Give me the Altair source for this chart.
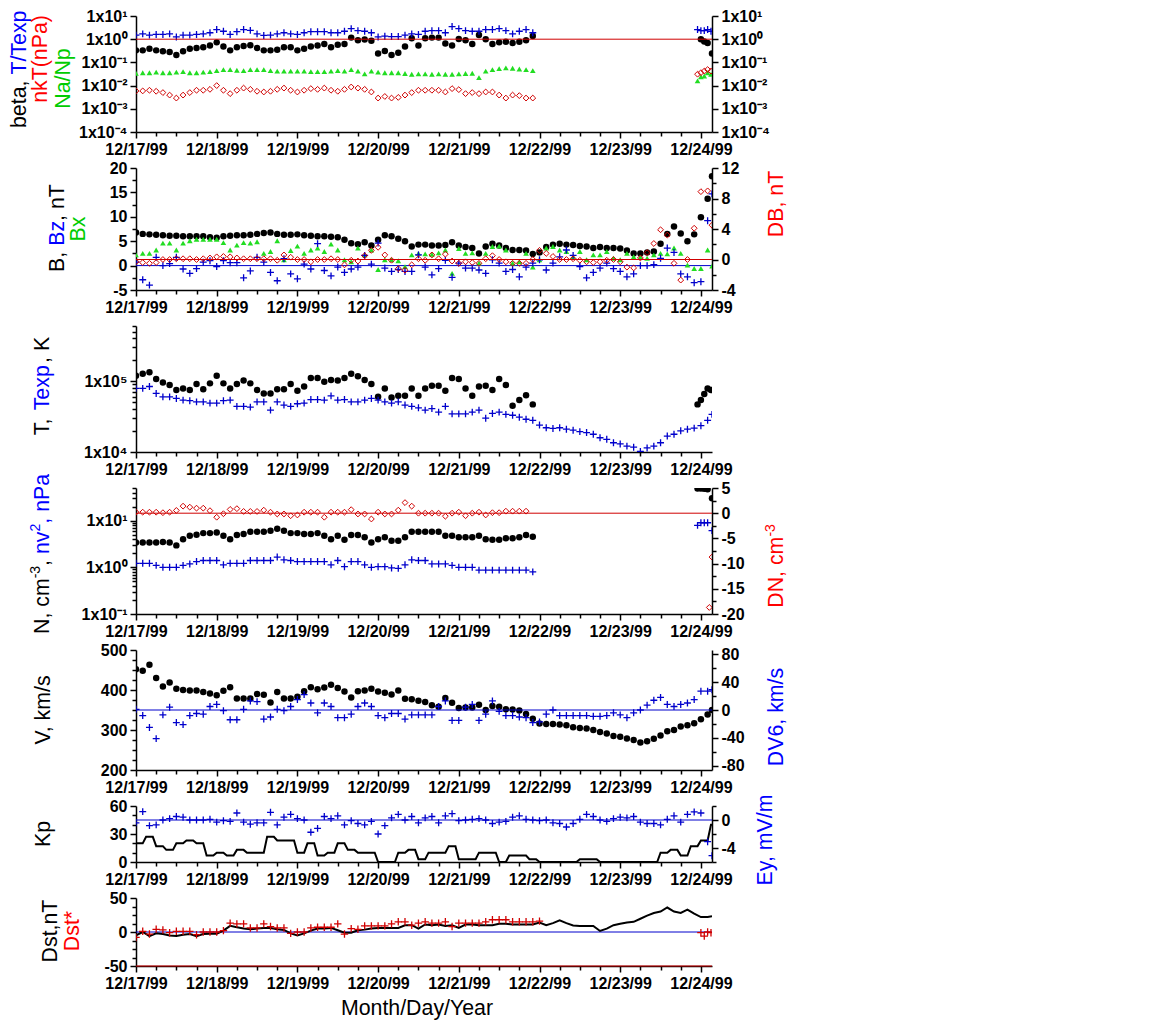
import altair as alt
import pandas as pd

FONT = "Liberation Sans"
TITLE_SIZE = 21.33
LABEL_SIZE = 16
BLACK = "#000000"
BLUE = "#0000CC"
RED = "#D00000"
GREEN = "#22DD22"
TXT_BLUE = "#0000FF"
TXT_RED = "#FF0000"
TXT_GREEN = "#00CC00"

X_END = 171.3          # hours after 12/17/99 00:00 at right end of axis
PLOT_W = 576
PANEL_H = [116, 122, 126, 126, 120, 56, 68]
SPACING = 36

# ---------------- data (2-hour samples from 12/17/99 00:00) ----------------
# Panel 1
BETA = [0.33, 0.33, 0.39, 0.33, 0.30, 0.28, 0.21, 0.30, 0.39, 0.42,
        0.45, 0.53, 0.73, 0.48, 0.33, 0.45, 0.51, 0.55, 0.42, 0.33,
        0.33, 0.35, 0.45, 0.45, 0.33, 0.39, 0.48, 0.53, 0.62, 0.45,
        0.58, 0.62, 1.17, 0.91, 0.97, 0.85, 0.24, 0.31, 0.21, 0.26,
        0.48, 1.10, 0.53, 1.10, 1.17, 1.17, 0.66, 0.53, 1.03, 0.91,
        0.62, 1.51, 1.0, 0.62, 0.73, 0.78, 0.68, 0.78, 0.91, 1.37]
BETA_TAIL_H = [168, 169, 170, 171.3]
BETA_TAIL = [1.0, 0.8, 0.68, 0.24]

TTEXP = [1.5, 1.7, 1.5, 1.6, 1.6, 1.7, 1.25, 1.5, 1.5, 1.6,
         1.7, 1.9, 2.6, 2.2, 1.6, 2.1, 2.6, 2.4, 1.7, 1.45,
         1.5, 1.7, 1.9, 1.7, 1.6, 1.9, 2.1, 2.1, 2.1, 1.9,
         1.9, 2.2, 2.85, 2.35, 2.2, 1.9, 1.25, 1.35, 1.3, 1.3,
         1.5, 1.7, 1.6, 2.2, 2.35, 2.35, 1.9, 3.5, 2.85, 2.35,
         2.2, 2.2, 2.6, 2.6, 2.85, 2.35, 1.7, 2.2, 2.6, 1.9]
TTEXP_TAIL_H = [167, 168, 169, 170, 171]
TTEXP_TAIL = [2.6, 2.35, 2.35, 2.6, 2.2]

NANP = [.034, .036, .036, .038, .036, .036, .038, .040, .036, .036,
        .038, .040, .044, .049, .049, .046, .044, .049, .049, .049,
        .044, .042, .042, .042, .042, .042, .040, .040, .040, .042,
        .044, .042, .049, .042, .032, .042, .038, .036, .036, .036,
        .033, .031, .032, .032, .031, .032, .031, .031, .032, .033,
        .034, .022, .042, .049, .054, .058, .056, .052, .049, .044]
NANP_TAIL_H = [167, 168, 169, 170, 171]
NANP_TAIL = [.016, .024, .026, .036, .031]

NKT = [.0059, .0059, .0063, .0057, .0050, .0039, .0029, .0039, .0050, .0063,
       .0063, .0069, .0100, .0063, .0045, .0063, .0078, .0069, .0057, .0053,
       .0057, .0069, .0078, .0063, .0053, .0063, .0074, .0069, .0078, .0063,
       .0057, .0069, .0087, .0078, .0069, .0053, .0029, .0034, .0029, .0031,
       .0039, .0050, .0063, .0063, .0063, .0063, .0053, .0074, .0067, .0045,
       .0050, .0045, .0053, .0053, .0039, .0029, .0039, .0037, .0029, .0029]
NKT_TAIL_H = [167, 168, 169, 170, 171]
NKT_TAIL = [.031, .036, .042, .049, .042]

# Panel 2 (last value of each list is at X_END)
B_MAG = [6.8, 6.5, 6.4, 6.3, 6.2, 6.1, 6.1, 6.0, 6.0, 6.0,
         6.0, 5.8, 5.7, 6.0, 6.1, 6.2, 6.2, 6.3, 6.5, 6.7,
         6.8, 6.5, 6.3, 6.3, 6.4, 6.2, 6.1, 6.0, 6.0, 5.9,
         5.8, 5.3, 4.6, 4.4, 4.8, 4.1, 5.3, 6.2, 6.0, 5.5,
         5.0, 3.9, 4.3, 4.3, 4.1, 4.1, 4.2, 4.8, 4.1, 3.8,
         3.6, 2.5, 3.9, 4.5, 4.1, 3.6, 3.2, 3.2, 3.1, 2.4,
         2.7, 3.8, 4.3, 4.5, 4.3, 4.2, 4.0, 3.9, 3.6, 3.8,
         3.6, 3.6, 3.5, 3.1, 2.5, 2.5, 2.7, 2.9, 4.5, 6.5,
         8.0, 6.6, 5.0, 6.4, 9.9, 13.7, 18.3]
BZ = [0.7, -2.9, -4.0, 1.7, 0.0, 0.4, 1.7, -0.7, -1.6, -0.6,
      0.7, 1.0, -0.2, 1.0, 0.6, 0.6, -2.5, -1.1, 1.7, 0.7,
      -1.4, -3.1, 1.4, -1.7, -2.7, 0.3, -0.7, 4.5, -1.0, -2.1,
      -0.3, -1.4, -0.7, -0.3, 2.1, 0.3, 4.6, -0.5, -1.2, -0.8,
      -1.2, -1.2, 2.2, -0.3, -1.9, -0.6, 1.1, -2.4, 0.5, -0.5,
      -0.5, -0.9, -1.6, 1.2, 0.5, -1.2, -0.8, -2.3, -0.3, 0.5,
      1.2, -0.9, 0.5, 1.8, 3.2, 2.1, -0.2, -2.5, -1.4, -0.5,
      0.5, -0.6, -1.2, -2.3, -1.7, 0.0, 0.0, 0.2, 1.5, 3.6,
      2.7, -1.7, -2.3, -3.5, -3.3, 9.2, 14.7]
BX = [2.2, 2.5, 2.5, 3.2, 4.6, 4.6, 3.2, 4.6, 5.1, 5.4,
      5.4, 5.4, 5.4, 4.7, 3.2, 4.2, 4.7, 4.6, 4.9, 2.5,
      2.9, 5.1, 1.2, 3.1, 4.0, 2.5, 3.2, 3.6, 2.9, 4.4,
      3.2, 1.2, 0.8, 3.6, 2.2, 3.2, -0.8, 1.2, 1.2, 1.0,
      -0.2, 2.2, 2.5, 2.4, 2.3, 2.6, 3.2, -1.6, 3.5, 2.5,
      2.6, 0.5, 2.5, 3.9, 4.0, 3.2, 0.5, 0.8, 2.5, -0.3,
      1.2, 3.6, 3.9, 3.2, 2.9, 1.8, 2.9, 1.2, 2.2, 2.2,
      2.9, 1.5, 1.2, 2.5, 1.8, 1.7, 1.5, 2.2, 2.5, 2.4,
      3.6, 2.5, 0.1, -0.6, -0.6, 3.2, -0.1]
DB = [-0.3, -0.4, -0.5, -0.4, 0.0, 0.0, 0.1, 0.1, 0.1, 0.0,
      0.1, 0.2, 0.35, 0.4, 0.35, 0.2, 0.1, 0.1, 0.1, 0.1,
      0.1, -0.1, 0.6, 0.3, 0.0, 0.0, -0.3, 0.0, 0.0, 0.1,
      0.0, -0.7, -0.1, -0.2, 0.5, 1.2, 1.6, 0.6, -0.1, -1.2,
      -1.4, -0.7, 0.1, -0.1, 0.6, 0.1, 0.7, -0.2, -0.5, -0.3,
      -0.4, -0.5, 0.1, 0.5, 0.0, -0.3, -0.5, -0.5, -0.5, 0.0,
      1.2, 0.8, 0.4, 0.0, 0.0, 0.1, -0.1, -0.3, -0.4, -0.3,
      -0.1, 0.0, -0.3, -1.0, -1.1, 0.2, 0.9, 2.1, 3.9, 3.2,
      -0.5, -2.7, 0.0, 4.1, 8.9, 9.0, 4.5]

# Panel 3
T_P = [1.19e5, 1.27e5, 1.33e5, 1.07e5, 9.6e4, 8.8e4, 7.5e4, 7.9e4, 7.5e4, 9.1e4,
       7.7e4, 9.3e4, 1.19e5, 9.3e4, 7.9e4, 9.1e4, 1.02e5, 9.3e4, 7.5e4, 6.7e4,
       6.7e4, 7.7e4, 7.7e4, 9.1e4, 7.3e4, 8.4e4, 1.11e5, 1.11e5, 9.8e4, 1.04e5,
       1.02e5, 1.11e5, 1.27e5, 1.17e5, 1.04e5, 9.1e4, 6.0e4, 7.9e4, 5.9e4, 6.2e4,
       6.2e4, 7.9e4, 6.2e4, 7.9e4, 8.6e4, 8.6e4, 7.3e4, 1.11e5, 1.07e5, 7.9e4,
       6.2e4, 8.4e4, 8.6e4, 7.5e4, 1.07e5, 8.8e4, 4.5e4, 5.4e4, 6.3e4, 4.7e4]
T_TAIL_H = [167, 168, 169, 170, 171]
T_TAIL = [4.7e4, 5.4e4, 6.6e4, 7.9e4, 7.5e4]
TEXP = [7.9e4, 7.9e4, 8.4e4, 6.7e4, 6.0e4, 6.0e4, 5.7e4, 5.4e4, 5.3e4, 5.1e4,
        5.1e4, 4.9e4, 4.9e4, 5.3e4, 5.4e4, 4.4e4, 4.4e4, 4.3e4, 5.1e4, 5.1e4,
        3.9e4, 5.1e4, 4.6e4, 4.4e4, 4.8e4, 4.9e4, 5.5e4, 5.5e4, 5.4e4, 6.2e4,
        5.4e4, 5.5e4, 5.1e4, 5.1e4, 5.4e4, 5.7e4, 5.4e4, 5.1e4, 4.9e4, 5.1e4,
        4.6e4, 4.4e4, 4.2e4, 3.9e4, 4.1e4, 3.65e4, 4.4e4, 3.45e4, 3.45e4, 3.45e4,
        3.65e4, 3.9e4, 3.0e4, 3.5e4, 3.65e4, 3.4e4, 3.3e4, 3.1e4, 2.9e4, 2.8e4,
        2.4e4, 2.2e4, 2.15e4, 2.2e4, 2.1e4, 2.03e4, 1.94e4, 1.88e4, 1.78e4, 1.59e4,
        1.51e4, 1.35e4, 1.30e4, 1.21e4, 1.17e4, 1.02e4, 1.14e4, 1.21e4, 1.35e4, 1.68e4,
        1.78e4, 1.99e4, 2.1e4, 2.17e4, 2.35e4, 2.8e4, 3.4e4]

# Panel 4
N_P = [3.4, 3.4, 3.4, 3.4, 3.5, 3.4, 2.95, 4.0, 4.75, 5.0,
       5.4, 5.4, 5.6, 4.75, 4.0, 4.9, 5.2, 5.8, 5.8, 5.8,
       6.1, 6.7, 6.1, 5.4, 5.4, 5.2, 5.2, 5.4, 4.75, 4.0,
       4.75, 3.9, 4.9, 4.9, 4.4, 3.4, 4.0, 4.4, 3.7, 3.7,
       4.4, 5.8, 5.8, 5.8, 5.8, 5.8, 4.75, 4.75, 4.4, 4.4,
       4.4, 4.75, 4.0, 3.9, 3.9, 4.2, 4.2, 4.4, 4.9, 4.5]
N_TAIL_H = [167, 168, 169, 170, 171.3]
N_TAIL = [49, 49, 48, 47, 30]
NV2 = [1.22, 1.22, 1.22, 1.1, 1.0, 1.0, 1.0, 1.1, 1.18, 1.33,
       1.4, 1.4, 1.4, 1.13, 1.22, 1.22, 1.22, 1.4, 1.4, 1.4,
       1.4, 1.66, 1.45, 1.4, 1.33, 1.33, 1.33, 1.33, 1.33, 1.13,
       1.4, 1.03, 1.33, 1.33, 1.13, 1.0, 1.03, 1.03, 0.97, 0.95,
       1.13, 1.45, 1.4, 1.4, 1.18, 1.18, 1.18, 1.1, 1.0, 1.0,
       1.0, 0.87, 0.87, 0.87, 0.87, 0.87, 0.87, 0.87, 0.87, 0.8]
NV2_TAIL_H = [167, 168, 169, 170, 171.3]
NV2_TAIL = [7.9, 9.0, 9.0, 9.0, 6.1]
DN = [0.2, 0.2, 0.2, 0.2, 0.1, 0.2, 0.55, 1.4, 1.2, 1.0,
      1.0, 0.5, -0.8, -0.1, 0.75, 0.9, 0.35, 0.35, 0.35, 0.6,
      0.2, -0.15, -0.15, -0.5, -0.35, 0.2, 0.2, 0.2, -0.8, 0.2,
      0.2, 0.2, 0.7, -0.15, -0.15, -1.15, 0.2, -0.15, -0.15, 0.6,
      2.1, 1.4, 0.0, 0.0, 0.0, 0.0, -0.6, 0.0, 0.2, -0.5,
      0.0, 0.2, -0.35, 0.1, 0.1, 0.4, 0.4, 0.4, 0.4]
DN_TAIL_H = [170.5, 171.3]
DN_TAIL = [-18.7, -8.7]

# Panel 5 (last value at X_END)
V_P = [452, 448, 463, 430, 409, 419, 403, 400, 399, 399,
       395, 391, 387, 398, 407, 379, 379, 379, 390, 388,
       369, 395, 379, 379, 383, 397, 407, 402, 406, 413,
       405, 396, 381, 397, 399, 403, 396, 393, 389, 399,
       378, 377, 373, 370, 362, 358, 380, 368, 355, 356,
       356, 363, 350, 360, 358, 352, 351, 349, 340, 328,
       316, 315, 315, 314, 312, 307, 305, 304, 300, 295,
       291, 285, 283, 279, 275, 269, 272, 278, 286, 297,
       300, 309, 312, 317, 327, 339, 350]
DV6 = [1, -8, -25, -41, -7, 4, -18, -21, -8, -5,
       -6, 5, 8, -1, -14, -14, 1, 13, 12, -13,
       -10, 1, -1, 5, 15, 22, 10, -4, 10, 5,
       -11, -11, -6, 5, 10, 5, -8, -11, -5, -5,
       -13, -7, -7, -7, -7, 5, 13, -15, -15, 4,
       8, -15, -6, 13, -2, -8, -8, -10, -11, -18,
       -17, -6, 0, -8, -8, -8, -8, -8, -9, -9,
       -8, -4, -7, -11, -4, 0, 7, 14, 18, 8,
       5, 8, 10, 15, 27, 27, 29]

# Panel 6: Kp (x10) per 3-hour interval; Ey
KP3 = [20, 27, 17, 13, 20, 23, 20, 7, 10, 7,
       13, 10, 10, 27, 23, 23, 10, 20, 7, 10,
       20, 13, 10, 10, 0, 0, 10, 13, 3, 10,
       10, 17, 3, 3, 10, 10, 0, 7, 7, 3,
       0, 0, 0, 0, 3, 3, 0, 0, 0, 0,
       0, 0, 10, 13, 7, 17, 23, 40]
EY = [-0.4, 1.2, -0.8, -0.7, 0.0, 0.2, 0.5, 0.4, 0.0, 0.0,
      0.0, 0.1, -0.3, -0.1, -0.2, 1.0, -0.3, -0.6, -0.4, -0.4,
      1.1, -0.7, 0.4, 0.8, 0.2, 0.0, -1.75, -1.2, 0.5, 0.2,
      0.6, -0.7, -0.1, -0.5, -0.7, -0.2, -2.0, -0.8, 0.3, 0.8,
      0.0, 0.5, -0.4, 0.3, 0.5, -0.4, 0.6, 0.9, -0.1, 0.0,
      0.1, 0.2, 0.0, -0.5, -0.3, -0.2, 0.4, 0.6, 0.1, 0.0,
      -0.1, 0.0, -0.4, -0.5, -1.0, -0.5, 0.1, 0.8, 0.5, 0.0,
      -0.2, 0.2, 0.4, 0.3, 0.5, -0.3, -0.5, -0.5, -0.7, 0.1,
      0.6, -0.3, 0.8, 1.15, 1.0, -3.1, -5.1]

# Panel 7 (last Dst value at X_END)
DST = [-5, 0, -6, -2, -3, -5, -6, -4, -3, -6,
       -3, -2.5, -2.5, 2, 9, 7, 5, 4, 5, 6,
       6, 4, 3, -2, -5, -2, 2, 5, 5, 6,
       2.5, -1, -1, 2.5, 3.5, 5, 6, 6, 6, 6,
       10, 10, 5, 11, 10, 11, 9, 10, 6, 11,
       11, 10, 10, 10, 12, 12, 11, 11, 11, 11,
       14, 10, 13, 17, 13, 9.5, 9, 9, 9, 1.5,
       5, 10, 12, 14, 15, 19.5, 24, 28, 30, 36,
       30, 28, 33, 27, 22, 22, 23]
DSTS = [-8, 1, -3, 4, 3, -1, 1, 1, 1, -4,
        0, 0, 0, 2, 13, 12, 12, 6, 6, 12,
        8, 6, 6, -2, 0, 0, 6, 7, 7, 7,
        12, -3, 5, 4, 9, 9, 9, 9, 12, 15,
        15, 10, 13, 15, 13, 13, 15, 8, 13, 13,
        13, 13, 15, 18, 18, 18, 15, 15, 15, 15, 16]
DSTS_TAIL_H = [168, 169, 170, 171]
DSTS_TAIL = [-1, -6, 0, -1]

# ---------------- helpers ----------------
PLUS = "M-1,0H1M0,-1V1"
ONE = pd.DataFrame({"a": [0]})


def hours2(vals):
    return [2 * i for i in range(len(vals))]


def hours2_end(vals):
    return [2 * i for i in range(len(vals) - 1)] + [X_END]


def frame(hours, vals):
    return pd.DataFrame({"h": hours, "v": vals})


AXIS_STYLE = dict(
    title=None, grid=False, labelOverlap=False, labelFlush=False,
    labelFont=FONT, labelFontSize=LABEL_SIZE, labelFontWeight="bold",
    labelColor=BLACK, labelPadding=3, domainColor=BLACK, domainWidth=1.5,
    tickColor=BLACK, tickWidth=1.5,
)

X_AXIS = alt.Axis(
    values=list(range(0, 169, 6)),
    labelExpr="datum.value % 24 == 0 ? '12/' + (17 + datum.value / 24) + '/99' : ''",
    tickSize={"condition": {"test": "datum.value % 24 == 0", "value": 6}, "value": 4},
    **AXIS_STYLE,
)


def xenc():
    return alt.X("h:Q", scale=alt.Scale(domain=[0, X_END], nice=False, zero=False), axis=X_AXIS)


def ylin(domain, values, step, orient):
    test = f"abs(datum.value % {step}) < 0.001"
    axis = alt.Axis(
        orient=orient, values=values,
        labelExpr=f"{test} ? '' + datum.value : ''",
        tickSize={"condition": {"test": test, "value": 6}, "value": 4},
        **AXIS_STYLE,
    )
    scale = alt.Scale(domain=domain, nice=False, zero=False)
    return lambda: alt.Y("v:Q", scale=scale, axis=axis)


SUPS = "['⁻⁴','⁻³','⁻²','⁻¹','⁰','¹','²','³','⁴','⁵','⁶']"
LOGE = "(log(datum.value) / LN10)"
DEC_TEST = f"abs({LOGE} - round({LOGE})) < 0.001"


def ylog(domain, values, orient):
    axis = alt.Axis(
        orient=orient, values=values,
        labelExpr=f"{DEC_TEST} ? '1x10' + {SUPS}[round({LOGE}) + 4] : ''",
        tickSize={"condition": {"test": DEC_TEST, "value": 6}, "value": 4},
        **AXIS_STYLE,
    )
    scale = alt.Scale(type="log", domain=domain, nice=False)
    return lambda: alt.Y("v:Q", scale=scale, axis=axis)


def pts(data, y, shape, color, size, filled, sw=1.0):
    return alt.Chart(data).mark_point(
        shape=shape, filled=filled, color=color, size=size, strokeWidth=sw,
        opacity=1, clip=True,
    ).encode(x=xenc(), y=y())


def dots(data, y):
    return pts(data, y, "circle", BLACK, 42, True)


def plus(data, y, color=BLUE, size=48):
    return pts(data, y, PLUS, color, size, False, 1.3)


def tri(data, y):
    return pts(data, y, "triangle-up", GREEN, 32, True)


def dia(data, y):
    return pts(data, y, "diamond", RED, 34, False, 1.0)


def line(data, y, color, sw):
    return alt.Chart(data).mark_line(color=color, strokeWidth=sw, clip=True).encode(x=xenc(), y=y())


def hrule(value, y, color):
    return alt.Chart(pd.DataFrame({"v": [value]})).mark_rule(color=color, strokeWidth=1).encode(y=y())


def txt(s, x, y, color, size=TITLE_SIZE, angle=270, align="left"):
    return alt.Chart(ONE).mark_text(
        text=s, font=FONT, fontSize=size, color=color, angle=angle,
        align=align, baseline="middle",
    ).encode(x=alt.value(x), y=alt.value(y))


# ---------------- panel 1 ----------------
DECADES1 = [1e-4, 1e-3, 1e-2, 1e-1, 1, 10]
y1L = ylog([1e-4, 10], DECADES1, "left")
y1R = ylog([1e-4, 10], DECADES1, "right")
p1 = alt.layer(
    alt.layer(
        dots(frame(hours2(BETA) + BETA_TAIL_H, BETA + BETA_TAIL), y1L),
        plus(frame(hours2(TTEXP) + TTEXP_TAIL_H, TTEXP + TTEXP_TAIL), y1L),
        tri(frame(hours2(NANP) + NANP_TAIL_H, NANP + NANP_TAIL), y1L),
        dia(frame(hours2(NKT) + NKT_TAIL_H, NKT + NKT_TAIL), y1L),
        txt("beta, ", -116, 112, BLACK),
        txt("T/Texp", -116, 58.6, TXT_BLUE),
        txt("nkT(nPa)", -95, 43, TXT_RED, align="center"),
        txt("Na/Np", -72, 62.5, TXT_GREEN, align="center"),
    ),
    alt.layer(hrule(1, y1R, RED)),
).resolve_scale(y="independent").properties(width=PLOT_W, height=PANEL_H[0])

# ---------------- panel 2 ----------------
y2L = ylin([-5, 20], [-5 + 2.5 * i for i in range(11)], 5, "left")
y2R = ylin([-4, 12], [-4 + 2 * i for i in range(9)], 4, "right")
h2 = hours2_end(B_MAG)
p2 = alt.layer(
    alt.layer(
        hrule(0, y2L, BLUE),
        dots(frame(h2, B_MAG), y2L),
        tri(frame(h2, BX), y2L),
        plus(frame(h2, BZ), y2L),
        txt("B, ", -78.5, 103.9, BLACK),
        txt("Bz", -78.5, 77.8, TXT_BLUE),
        txt(", nT", -78.5, 52.9, BLACK),
        txt("Bx", -57, 61, TXT_GREEN, align="center"),
        txt("DB, nT", 641, 36, TXT_RED, align="center"),
    ),
    alt.layer(
        hrule(0, y2R, RED),
        dia(frame(h2, DB), y2R),
    ),
).resolve_scale(y="independent").properties(width=PLOT_W, height=PANEL_H[1])

# ---------------- panel 3 ----------------
T_TICKS = [k * 1e4 for k in range(1, 10)] + [k * 1e5 for k in range(1, 7)]
y3L = ylog([1e4, 6e5], T_TICKS, "left")
p3 = alt.layer(
    dots(frame(hours2(T_P) + T_TAIL_H, T_P + T_TAIL), y3L),
    plus(frame(hours2_end(TEXP), TEXP), y3L),
    txt("T, ", -93.5, 109.2, BLACK),
    txt("Texp", -93.5, 84.3, TXT_BLUE),
    txt(", K", -93.5, 36.9, BLACK),
).properties(width=PLOT_W, height=PANEL_H[2])

# ---------------- panel 4 ----------------
N_TICKS = ([k * 0.1 for k in range(1, 10)] + [float(k) for k in range(1, 10)]
           + [10.0, 20.0, 30.0, 40.0, 50.0])
y4L = ylog([0.1, 50], N_TICKS, "left")
y4R = ylin([-20, 5], [-20 + 2.5 * i for i in range(11)], 5, "right")
p4 = alt.layer(
    alt.layer(
        dots(frame(hours2(N_P) + N_TAIL_H, N_P + N_TAIL), y4L),
        plus(frame(hours2(NV2) + NV2_TAIL_H, NV2 + NV2_TAIL), y4L),
        txt("N, cm", -93.5, 146, BLACK),
        txt("-3", -100, 90.3, BLACK, size=14),
        txt(", ", -93.5, 77.9, BLACK),
        txt("nv", -93.5, 66.0, TXT_BLUE),
        txt("2", -100, 43.5, TXT_BLUE, size=14),
        txt(", nPa", -93.5, 35.7, TXT_BLUE),
        txt("DN, cm", 641, 119.7, TXT_RED),
        txt("-3", 634.6, 48.6, TXT_RED, size=14),
    ),
    alt.layer(
        hrule(0, y4R, RED),
        dia(frame(hours2(DN) + DN_TAIL_H, DN + DN_TAIL), y4R),
    ),
).resolve_scale(y="independent").properties(width=PLOT_W, height=PANEL_H[3])

# ---------------- panel 5 ----------------
y5L = ylin([200, 500], [200 + 25 * i for i in range(13)], 100, "left")
y5R = ylin([-86, 86], [-80 + 20 * i for i in range(9)], 40, "right")
h5 = hours2_end(V_P)
p5 = alt.layer(
    alt.layer(
        dots(frame(h5, V_P), y5L),
        txt("V, km/s", -92, 60, BLACK, align="center"),
        txt("DV6, km/s", 641, 67, TXT_BLUE, align="center"),
    ),
    alt.layer(
        hrule(0, y5R, BLUE),
        plus(frame(h5, DV6), y5R),
    ),
).resolve_scale(y="independent").properties(width=PLOT_W, height=PANEL_H[4])

# ---------------- panel 6 ----------------
KP_H = [3 * i + j for i in range(len(KP3)) for j in range(3)]
KP_V = [v for v in KP3 for _ in range(3)]
y6L = ylin([0, 60], [10 * i for i in range(7)], 30, "left")
EY_TEST = "datum.value == 0 || datum.value == -4"
EY_AXIS = alt.Axis(
    orient="right", values=[-6, -4, -2, 0, 2],
    labelExpr=f"({EY_TEST}) ? '' + datum.value : ''",
    tickSize={"condition": {"test": EY_TEST, "value": 6}, "value": 4},
    **AXIS_STYLE,
)
EY_SCALE = alt.Scale(domain=[-6, 2], nice=False, zero=False)


def y6R():
    return alt.Y("v:Q", scale=EY_SCALE, axis=EY_AXIS)


p6 = alt.layer(
    alt.layer(
        line(frame(KP_H, KP_V), y6L, BLACK, 2),
        txt("Kp", -92, 28, BLACK, align="center"),
        txt("Ey,  mV/m", 630, 34, TXT_BLUE, align="center"),
    ),
    alt.layer(
        hrule(0, y6R, BLUE),
        plus(frame(hours2_end(EY), EY), y6R),
    ),
).resolve_scale(y="independent").properties(width=PLOT_W, height=PANEL_H[5])

# ---------------- panel 7 ----------------
y7L = ylin([-50, 50], [-50 + 12.5 * i for i in range(9)], 50, "left")
p7 = alt.layer(
    hrule(0, y7L, BLUE),
    hrule(-50, y7L, RED),
    line(frame(hours2_end(DST), DST), y7L, BLACK, 2),
    plus(frame(hours2(DSTS) + DSTS_TAIL_H, DSTS + DSTS_TAIL), y7L, color=RED, size=55),
    txt("Dst,nT", -85, 33, BLACK, align="center"),
    txt("Dst*", -63.5, 33, TXT_RED, align="center"),
    txt("Month/Day/Year", 281, 111, BLACK, angle=0, align="center"),
).properties(width=PLOT_W, height=PANEL_H[6])

chart = alt.vconcat(
    p1, p2, p3, p4, p5, p6, p7, spacing=SPACING, bounds="flush"
).configure_view(stroke=None).properties(
    padding={"left": 0, "top": 0, "right": 10, "bottom": 5}
)

chart.save("out.html", embed_options={"renderer": "svg", "actions": False})
